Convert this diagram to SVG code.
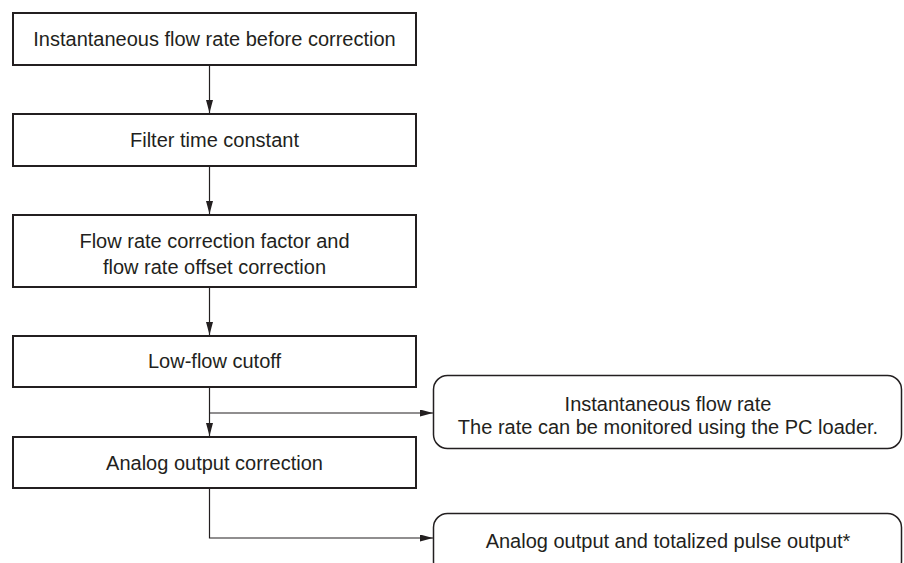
<svg xmlns="http://www.w3.org/2000/svg" width="904" height="563" viewBox="0 0 904 563">
<style>
.box{fill:#fff;stroke:#231f20;stroke-width:2}
.rbox{fill:#fff;stroke:#231f20;stroke-width:1.5}
.t{font-family:"Liberation Sans",Arial,sans-serif;font-size:20px;fill:#231f20;text-anchor:middle}
.c{fill:none;stroke:#231f20;stroke-width:1.2}
</style>
<defs>
<marker id="ah" markerUnits="userSpaceOnUse" markerWidth="14" markerHeight="8" refX="13" refY="3.5" orient="auto">
<path d="M0,0 L13,3.5 L0,7 z" fill="#231f20"/>
</marker>
</defs>
<rect width="904" height="563" fill="#fff"/>
<g id="connectors">
<path class="c" d="M209.5,66 V113" marker-end="url(#ah)"/>
<path class="c" d="M209.5,167 V214" marker-end="url(#ah)"/>
<path class="c" d="M209.5,288 V335" marker-end="url(#ah)"/>
<path class="c" d="M209.5,388 V436" marker-end="url(#ah)"/>
<path class="c" d="M209.5,413 H433" marker-end="url(#ah)"/>
<path class="c" d="M209.5,489 V538 H433" marker-end="url(#ah)"/>
</g>
<g id="n1"><rect class="box" x="13" y="13" width="403" height="52"/><text class="t" x="214.5" y="46">Instantaneous flow rate before correction</text></g>
<g id="n2"><rect class="box" x="13" y="114" width="403" height="52"/><text class="t" x="214.5" y="147">Filter time constant</text></g>
<g id="n3"><rect class="box" x="13" y="215" width="403" height="72"/><text class="t" x="214.5" y="248">Flow rate correction factor and</text><text class="t" x="214.5" y="274">flow rate offset correction</text></g>
<g id="n4"><rect class="box" x="13" y="336" width="403" height="51"/><text class="t" x="214.5" y="368">Low-flow cutoff</text></g>
<g id="n5"><rect class="box" x="13" y="437" width="403" height="51"/><text class="t" x="214.5" y="470">Analog output correction</text></g>
<g id="n6"><rect class="rbox" x="433.5" y="375.5" width="468" height="73" rx="14"/><text class="t" x="668" y="411">Instantaneous flow rate</text><text class="t" x="668" y="434">The rate can be monitored using the PC loader.</text></g>
<g id="n7"><rect class="rbox" x="433.5" y="513.5" width="468" height="62" rx="14"/><text class="t" x="668" y="548">Analog output and totalized pulse output*</text></g>
</svg>
